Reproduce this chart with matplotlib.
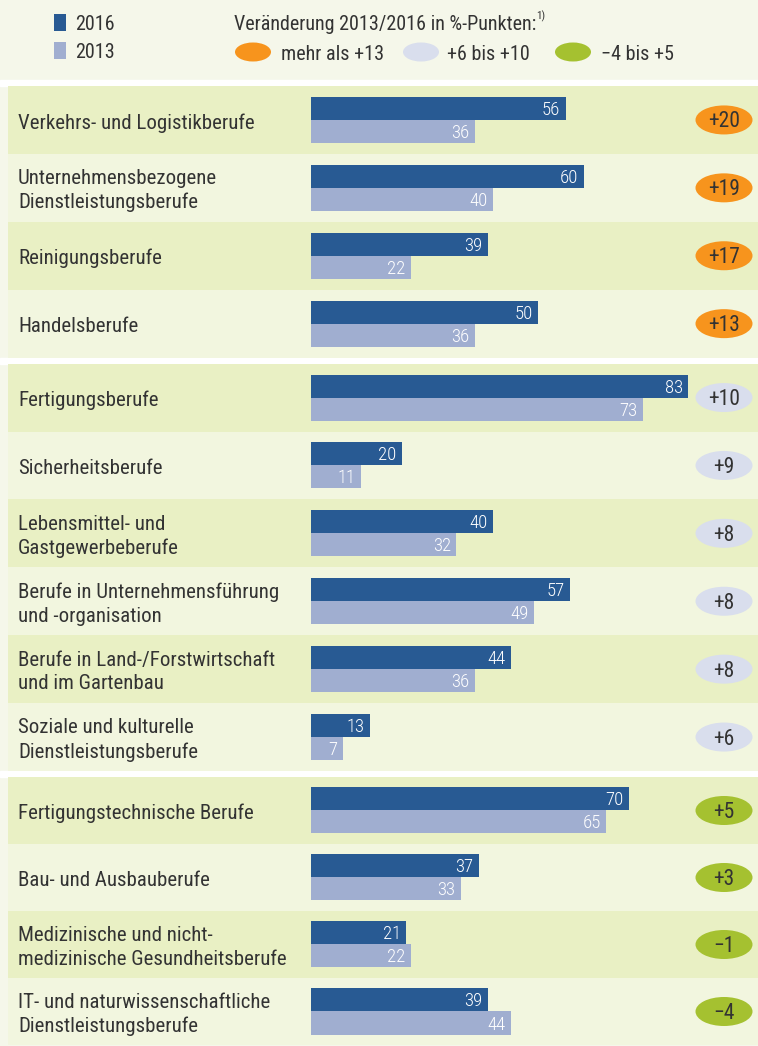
import matplotlib
matplotlib.use("Agg")
import matplotlib.pyplot as plt
from matplotlib.patches import Ellipse, Rectangle
from matplotlib import font_manager

# Data
labels = [
    "Verkehrs- und Logistikberufe",
    "Unternehmensbezogene\nDienstleistungsberufe",
    "Reinigungsberufe",
    "Handelsberufe",
    "Fertigungsberufe",
    "Sicherheitsberufe",
    "Lebensmittel- und\nGastgewerbeberufe",
    "Berufe in Unternehmensführung\nund -organisation",
    "Berufe in Land-/Forstwirtschaft\nund im Gartenbau",
    "Soziale und kulturelle\nDienstleistungsberufe",
    "Fertigungstechnische Berufe",
    "Bau- und Ausbauberufe",
    "Medizinische und nicht-\nmedizinische Gesundheitsberufe",
    "IT- und naturwissenschaftliche\nDienstleistungsberufe",
]
v2016 = [56, 60, 39, 50, 83, 20, 40, 57, 44, 13, 70, 37, 21, 39]
v2013 = [36, 40, 22, 36, 73, 11, 32, 49, 36, 7, 65, 33, 22, 44]
change = ["+20", "+19", "+17", "+13", "+10", "+9", "+8", "+8", "+8", "+6", "+5", "+3", "\u22121", "\u22124"]
group = [0, 0, 0, 0, 1, 1, 1, 1, 1, 1, 2, 2, 2, 2]

c2016 = "#285a93"
c2013 = "#a0aed0"
badge_colors = ["#f7941d", "#d9deed", "#a5c130"]
row_dark = "#e9f0c4"
row_light = "#f2f6df"
bg = "#f5f7ea"
txt = "#333333"

# pick a narrow face if one is installed
entries = font_manager.fontManager.ttflist
names = {f.name for f in entries}
fam = "DejaVu Sans"
scale_fs = 0.87
for cand in ["Liberation Sans Narrow", "Roboto Condensed", "Open Sans Condensed"]:
    if cand in names:
        fam, scale_fs = cand, 1.0
        break
plt.rcParams['font.family'] = [fam, 'DejaVu Sans']
list_fs = 15 * scale_fs
val_fs = 13.5 * scale_fs
badge_fs = 15.5 * scale_fs
leg_fs = 14.5 * scale_fs

W, H = 758, 1046
fig = plt.figure(figsize=(W / 100, H / 100), dpi=100, facecolor=bg)
ax = fig.add_axes([0, 0, 1, 1])
ax.set_facecolor(bg)

# x in value units, y in pixel rows
x0px = 311
scale = 4.545
def vx(px):
    return (px - x0px) / scale
ax.set_xlim(vx(0), vx(W))
ax.set_ylim(H, 0)
ax.axis('off')

# row layout
tops = []
y = 86
for i in range(len(labels)):
    if i > 0 and group[i] != group[i - 1]:
        y += 6
    tops.append(y)
    y += 67.9 if group[i] < 2 else 67

# white separators
ax.add_patch(Rectangle((vx(0), 80), vx(W) - vx(0), 6, color="white", zorder=1))
for i in range(1, len(labels)):
    if group[i] != group[i - 1]:
        ax.add_patch(Rectangle((vx(0), tops[i] - 6), vx(W) - vx(0), 6, color="white", zorder=1))

for i, lab in enumerate(labels):
    top = tops[i]
    rh = 67.9 if group[i] < 2 else 67
    col = row_dark if i % 2 == 0 else row_light
    ax.add_patch(Rectangle((vx(8), top), vx(W) - vx(8), rh, color=col, zorder=1, lw=0))
    cy = top + rh / 2
    ax.barh(cy - 11.5, v2016[i], height=23, left=0, color=c2016, zorder=2)
    ax.barh(cy + 11.5, v2013[i], height=23, left=0, color=c2013, zorder=2)
    ax.text(v2016[i] - 1.2, cy - 10, str(v2016[i]), color="white", fontsize=val_fs,
            fontweight="light", ha="right", va="center", zorder=3)
    ax.text(v2013[i] - 1.2, cy + 13, str(v2013[i]), color="white", fontsize=val_fs,
            fontweight="light", ha="right", va="center", zorder=3)
    ax.text(vx(18), cy + 3, lab, color=txt, fontsize=list_fs, ha="left", va="center",
            linespacing=1.3, zorder=3)
    ax.add_patch(Ellipse((vx(724), cy), 57 / scale, 29, color=badge_colors[group[i]], zorder=3, lw=0))
    ax.text(vx(724), cy + 2, change[i], color=txt, fontsize=badge_fs, ha="center", va="center", zorder=4)

# legend
ax.add_patch(Rectangle((vx(54), 14), 12 / scale, 17, color=c2016, zorder=3, lw=0))
ax.add_patch(Rectangle((vx(54), 42), 12 / scale, 17, color=c2013, zorder=3, lw=0))
ax.text(vx(75), 24, "2016", color=txt, fontsize=leg_fs, ha="left", va="center")
ax.text(vx(75), 53, "2013", color=txt, fontsize=leg_fs, ha="left", va="center")
head = ax.text(vx(234), 24, "Veränderung 2013/2016 in %-Punkten:", color=txt,
               fontsize=leg_fs, ha="left", va="center")
ax.annotate("1)", xy=(1.0, 0.6), xycoords=head, xytext=(0, 0), textcoords="offset points",
            fontsize=8, color=txt, ha="left", va="bottom")
leg_items = [(253, 281, "mehr als +13"), (421, 447, "+6 bis +10"), (573, 601, "\u22124 bis +5")]
for k, (ex, tx, t) in enumerate(leg_items):
    ax.add_patch(Ellipse((vx(ex), 52), 36 / scale, 19, color=badge_colors[k], zorder=3, lw=0))
    ax.text(vx(tx), 54, t, color=txt, fontsize=leg_fs, ha="left", va="center")

fig.savefig("out.png", dpi=100, facecolor=bg)
